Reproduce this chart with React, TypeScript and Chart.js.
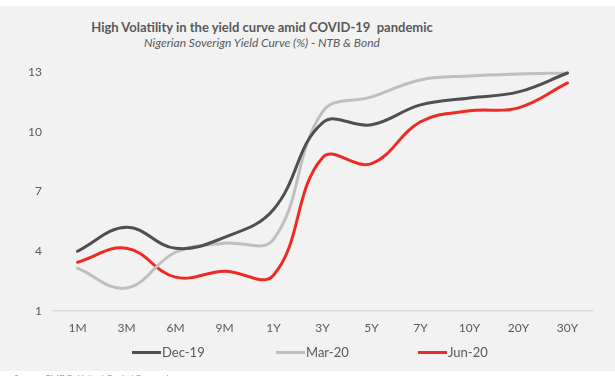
import React, { useEffect, useRef } from "react";
import { Chart, registerables } from "chart.js";

Chart.register(...registerables);

const categories = ["1M", "3M", "6M", "9M", "1Y", "3Y", "5Y", "7Y", "10Y", "20Y", "30Y"];
const dec19 = [4.0, 5.2, 4.15, 4.7, 6.1, 10.45, 10.35, 11.35, 11.7, 12.0, 12.95];
const mar20 = [3.15, 2.15, 3.95, 4.4, 4.6, 11.0, 11.75, 12.6, 12.8, 12.9, 12.95];
const jun20 = [3.45, 4.15, 2.7, 3.0, 2.8, 8.7, 8.4, 10.5, 11.05, 11.2, 12.45];
const yTicks = [1, 4, 7, 10, 13];

const seriesNames = ["Dec-19", "Mar-20", "Jun-20"];
const seriesColors = ["#4f4f51", "#bfbfbf", "#ee2a24"];

const FONT = "Lato, 'Open Sans', sans-serif";
const TEXT = "#595959";

export default function App() {
  const ref = useRef<HTMLCanvasElement>(null);

  useEffect(() => {
    const ctx = ref.current;
    if (!ctx) return;
    const data = [dec19, mar20, jun20];
    const chart = new Chart(ctx, {
      type: "line",
      data: {
        labels: categories,
        datasets: data.map((d, i) => ({
          label: seriesNames[i],
          data: d,
          borderColor: seriesColors[i],
          backgroundColor: seriesColors[i],
          borderWidth: 3,
          pointRadius: 0,
          tension: 0.4,
          fill: false,
          clip: false as any,
          borderCapStyle: "round" as const,
        })),
      },
      options: {
        animation: false,
        responsive: false,
        devicePixelRatio: 1,
        layout: { padding: { top: 72, left: 0, right: 23, bottom: 35 } },
        plugins: {
          legend: { display: false },
          title: { display: false },
          tooltip: { enabled: false },
        },
        scales: {
          x: {
            offset: true,
            grid: { display: false, drawTicks: false },
            border: { display: true, color: "#d9d9d9", width: 1.5 },
            ticks: { color: TEXT, font: { family: FONT, size: 12 }, padding: 10, maxRotation: 0 },
            afterFit: (s: any) => {
              s.height = 30;
            },
          },
          y: {
            min: 1,
            max: 13,
            afterBuildTicks: (s: any) => {
              s.ticks = yTicks.map((v) => ({ value: v }));
            },
            grid: { display: false, drawTicks: false },
            border: { display: false },
            ticks: { color: TEXT, font: { family: FONT, size: 12 }, padding: 11 },
            afterFit: (s: any) => {
              s.width = 53;
            },
          },
        },
      },
    });
    return () => chart.destroy();
  }, []);

  return (
    <div
      style={{
        position: "fixed",
        left: 0,
        top: 0,
        width: 615,
        height: 376,
        background: "#ffffff",
        overflow: "hidden",
        fontFamily: FONT,
      }}
    >
      <div style={{ position: "absolute", left: 0, top: 6, width: 615, height: 365, background: "#f2f2f2" }} />
      <div
        style={{
          position: "absolute",
          left: 0,
          width: 524,
          top: 18,
          textAlign: "center",
          fontWeight: 700,
          fontSize: 13,
          lineHeight: "18px",
          color: TEXT,
        }}
      >
        High Volatility in the yield curve amid COVID-19 &nbsp;pandemic
      </div>
      <div
        style={{
          position: "absolute",
          left: 0,
          width: 524,
          top: 35,
          textAlign: "center",
          fontStyle: "italic",
          fontSize: 12,
          lineHeight: "16px",
          color: TEXT,
        }}
      >
        Nigerian Soverign Yield Curve (%) - NTB &amp; Bond
      </div>
      <canvas ref={ref} width={615} height={376} style={{ position: "absolute", left: 0, top: 0, width: 615, height: 376 }} />
      {seriesNames.map((n, i) => (
        <div
          key={n}
          style={{
            position: "absolute",
            left: [132, 276, 418][i],
            top: 343,
            height: 18,
            display: "flex",
            alignItems: "center",
            fontSize: 13,
            color: TEXT,
          }}
        >
          <span style={{ display: "inline-block", width: 29, height: 3, background: seriesColors[i], marginRight: 1 }} />
          <span>{n}</span>
        </div>
      ))}
      <div style={{ position: "absolute", left: 14, top: 373, fontSize: 9, color: "#a0a0a0", whiteSpace: "nowrap" }}>
        Source: FMDQ, United Capital Research
      </div>
    </div>
  );
}
